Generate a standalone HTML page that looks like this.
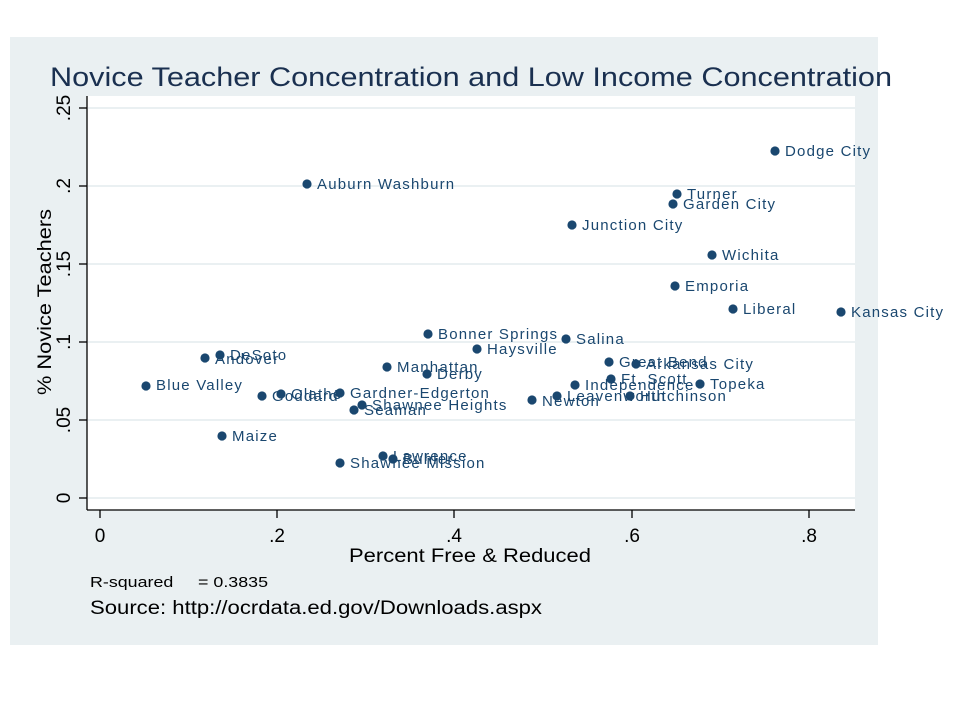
<!DOCTYPE html>
<html><head><meta charset="utf-8"><style>
html,body{margin:0;padding:0;background:#fff;}
svg{display:block;font-family:"Liberation Sans",sans-serif;}
</style></head><body>
<svg width="960" height="720" viewBox="0 0 960 720" xmlns="http://www.w3.org/2000/svg">
<rect x="10" y="37" width="868" height="608" fill="#eaf0f2"/>
<rect x="87" y="96" width="768" height="414" fill="#fff"/>
<text x="50" y="86" font-size="27" fill="#1a3050" textLength="842" lengthAdjust="spacingAndGlyphs">Novice Teacher Concentration and Low Income Concentration</text>
<g stroke="#eaf0f2" stroke-width="2">
<line x1="88" x2="855" y1="108" y2="108"/>
<line x1="88" x2="855" y1="186" y2="186"/>
<line x1="88" x2="855" y1="264" y2="264"/>
<line x1="88" x2="855" y1="342" y2="342"/>
<line x1="88" x2="855" y1="420" y2="420"/>
<line x1="88" x2="855" y1="498" y2="498"/>
</g>
<g stroke="#000" stroke-width="1.3">
<line x1="87" y1="96" x2="87" y2="510"/>
<line x1="87" y1="510" x2="855" y2="510"/>
<line x1="79" x2="87" y1="108" y2="108"/><line x1="79" x2="87" y1="186" y2="186"/>
<line x1="79" x2="87" y1="264" y2="264"/><line x1="79" x2="87" y1="342" y2="342"/>
<line x1="79" x2="87" y1="420" y2="420"/><line x1="79" x2="87" y1="498" y2="498"/>
<line x1="100" x2="100" y1="510" y2="518"/><line x1="277" x2="277" y1="510" y2="518"/>
<line x1="454" x2="454" y1="510" y2="518"/><line x1="632" x2="632" y1="510" y2="518"/>
<line x1="809" x2="809" y1="510" y2="518"/>
</g>
<g font-size="19" fill="#000" text-anchor="middle">
<text transform="translate(70,108) rotate(-90)">.25</text>
<text transform="translate(70,186) rotate(-90)">.2</text>
<text transform="translate(70,264) rotate(-90)">.15</text>
<text transform="translate(70,342) rotate(-90)">.1</text>
<text transform="translate(70,420) rotate(-90)">.05</text>
<text transform="translate(70,498) rotate(-90)">0</text>
<text x="100" y="542">0</text><text x="277" y="542">.2</text><text x="454" y="542">.4</text>
<text x="632" y="542">.6</text><text x="809" y="542">.8</text>
</g>
<text x="349" y="562" font-size="19" textLength="242" lengthAdjust="spacingAndGlyphs">Percent Free &amp; Reduced</text>
<text transform="translate(51,395) rotate(-90)" font-size="19" textLength="186" lengthAdjust="spacingAndGlyphs">% Novice Teachers</text>
<text x="90" y="587" font-size="15" textLength="178" lengthAdjust="spacingAndGlyphs">R-squared&#160;&#160;&#160;&#160;&#160;= 0.3835</text>
<text x="90" y="614" font-size="19" textLength="452" lengthAdjust="spacingAndGlyphs">Source: http://ocrdata.ed.gov/Downloads.aspx</text>
<g fill="#1a476f">
<circle cx="775" cy="151" r="4.6"/><circle cx="307" cy="184" r="4.6"/><circle cx="677" cy="194" r="4.6"/>
<circle cx="673" cy="204" r="4.6"/><circle cx="572" cy="225" r="4.6"/><circle cx="712" cy="255" r="4.6"/>
<circle cx="675" cy="286" r="4.6"/><circle cx="733" cy="309" r="4.6"/><circle cx="841" cy="312" r="4.6"/>
<circle cx="428" cy="334" r="4.6"/><circle cx="566" cy="339" r="4.6"/><circle cx="477" cy="349" r="4.6"/>
<circle cx="220" cy="355" r="4.6"/><circle cx="205" cy="358" r="4.6"/><circle cx="609" cy="362" r="4.6"/>
<circle cx="636" cy="364" r="4.6"/><circle cx="387" cy="367" r="4.6"/><circle cx="427" cy="374" r="4.6"/>
<circle cx="611" cy="379" r="4.6"/><circle cx="146" cy="386" r="4.6"/><circle cx="700" cy="384" r="4.6"/>
<circle cx="575" cy="385" r="4.6"/><circle cx="262" cy="396" r="4.6"/><circle cx="281" cy="394" r="4.6"/>
<circle cx="340" cy="393" r="4.6"/><circle cx="557" cy="396" r="4.6"/><circle cx="630" cy="396" r="4.6"/>
<circle cx="362" cy="405" r="4.6"/><circle cx="354" cy="410" r="4.6"/><circle cx="532" cy="400" r="4.6"/>
<circle cx="222" cy="436" r="4.6"/><circle cx="383" cy="456" r="4.6"/><circle cx="393" cy="459" r="4.6"/>
<circle cx="340" cy="463" r="4.6"/>
</g>
<g fill="#1a476f" font-size="15" letter-spacing="1.2" dominant-baseline="middle">
<text x="785" y="152">Dodge City</text><text x="317" y="185">Auburn Washburn</text><text x="687" y="195">Turner</text>
<text x="683" y="205">Garden City</text><text x="582" y="226">Junction City</text><text x="722" y="256">Wichita</text>
<text x="685" y="287">Emporia</text><text x="743" y="310">Liberal</text><text x="851" y="313">Kansas City</text>
<text x="438" y="335">Bonner Springs</text><text x="576" y="340">Salina</text><text x="487" y="350">Haysville</text>
<text x="230" y="356">DeSoto</text><text x="215" y="360">Andover</text><text x="619" y="363">Great Bend</text>
<text x="646" y="365">Arkansas City</text><text x="397" y="368">Manhattan</text><text x="437" y="375">Derby</text>
<text x="621" y="380">Ft. Scott</text><text x="156" y="386">Blue Valley</text><text x="710" y="385">Topeka</text>
<text x="585" y="386">Independence</text><text x="272" y="397">Goddard</text><text x="291" y="395">Olathe</text>
<text x="350" y="394">Gardner-Edgerton</text><text x="567" y="397">Leavenworth</text><text x="640" y="397">Hutchinson</text>
<text x="372" y="406">Shawnee Heights</text><text x="364" y="411">Seaman</text><text x="542" y="402">Newton</text>
<text x="232" y="437">Maize</text><text x="393" y="457">Lawrence</text><text x="403" y="460">Buhler</text>
<text x="350" y="464">Shawnee Mission</text>
</g>
</svg>
</body></html>
